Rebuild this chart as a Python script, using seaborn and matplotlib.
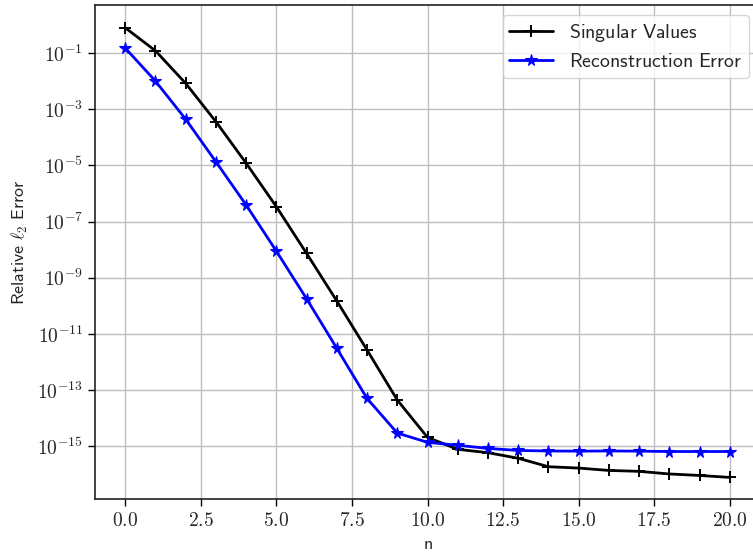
import matplotlib
matplotlib.use("Agg")
import matplotlib.pyplot as plt
import matplotlib.ticker as mticker
import numpy as np
import pandas as pd
import seaborn as sns

# Truncation rank
n = list(range(21))

# Normalised singular values and relative reconstruction error per rank
singular_values = [7.9e-1, 1.2e-1, 8.3e-3, 3.6e-4, 1.2e-5, 3.4e-7, 7.4e-9,
                   1.5e-10, 2.7e-12, 4.5e-14, 2.1e-15, 7.9e-16, 6.0e-16,
                   3.8e-16, 1.9e-16, 1.7e-16, 1.4e-16, 1.3e-16, 1.05e-16,
                   9.3e-17, 7.9e-17]
reconstruction_error = [1.5e-1, 1.0e-2, 4.4e-4, 1.35e-5, 3.9e-7, 8.9e-9,
                        1.8e-10, 3.1e-12, 5.1e-14, 3.0e-15, 1.4e-15, 1.1e-15,
                        8.5e-16, 7.2e-16, 6.9e-16, 6.8e-16, 6.9e-16, 6.8e-16,
                        6.6e-16, 6.6e-16, 6.6e-16]

x_ticks = [0.0, 2.5, 5.0, 7.5, 10.0, 12.5, 15.0, 17.5, 20.0]
y_tick_exponents = [-1, -3, -5, -7, -9, -11, -13, -15]

sns.set_style("ticks")
plt.rcParams["mathtext.fontset"] = "cm"
plt.rcParams["font.family"] = ["DejaVu Sans"]

df = pd.DataFrame({"n": n, "sv": singular_values, "rec": reconstruction_error})

fig = plt.figure(figsize=(7.53, 5.59), dpi=100)
ax = fig.add_axes([95 / 753, 60 / 559, 665 / 753, 494 / 559])

sns.lineplot(data=df, x="n", y="sv", ax=ax, color="black", marker="+",
             markersize=9, markeredgewidth=1.4, markeredgecolor="black",
             linewidth=2.0, label=r"$\mathsf{Singular\ Values}$")
sns.lineplot(data=df, x="n", y="rec", ax=ax, color="blue", marker="*",
             markersize=8.5, markeredgewidth=0.8, markeredgecolor="blue",
             linewidth=2.0, label=r"$\mathsf{Reconstruction\ Error}$")

ax.set_yscale("log")
ax.set_xlim(-1, 21)
ax.set_ylim(10 ** -16.87, 10 ** 0.708)

ax.set_xticks(x_ticks)
ax.xaxis.set_major_formatter(mticker.FuncFormatter(lambda v, p: r"$%.1f$" % v))
ax.yaxis.set_major_locator(mticker.FixedLocator([10.0 ** e for e in y_tick_exponents]))
ax.yaxis.set_minor_locator(mticker.NullLocator())
ax.yaxis.set_major_formatter(mticker.FuncFormatter(
    lambda v, p: r"$10^{%d}$" % round(np.log10(v))))

ax.tick_params(axis="both", which="major", labelsize=14, length=5,
               width=1, direction="out", color="black")
ax.grid(True, which="major", color="#bdbdbd", linewidth=1)
ax.set_axisbelow(True)
for s in ax.spines.values():
    s.set_color("#222222")
    s.set_linewidth(1.2)

ax.set_xlabel(r"$\mathsf{n}$", fontsize=13)
ax.set_ylabel(r"$\mathsf{Relative}\ \ell_2\ \mathsf{Error}$", fontsize=13)
ax.yaxis.set_label_coords(-0.097, 0.52)

leg = ax.legend(loc="upper right", fontsize=14.3, frameon=True, fancybox=True,
                framealpha=0.8, edgecolor="#cccccc", handlelength=2.2,
                borderaxespad=0, borderpad=0.35, labelspacing=0.4)
leg.set_bbox_to_anchor((749 / 753, 1 - 15 / 559), transform=fig.transFigure)

fig.savefig("out.png", dpi=100)
